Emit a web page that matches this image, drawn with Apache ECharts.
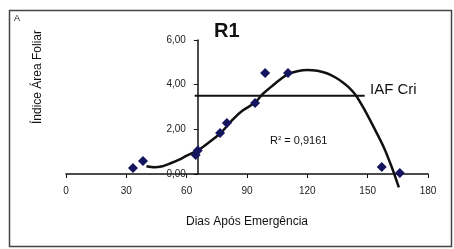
<!DOCTYPE html>
<html>
<head>
<meta charset="utf-8">
<script src="https://cdn.jsdelivr.net/npm/echarts@6/dist/echarts.min.js"></script>
<style>
  html, body { margin: 0; padding: 0; background: #fff; }
  #main { width: 454px; height: 249px; }
</style>
</head>
<body>
<div id="main"></div>
<script>
// observacoes (dias apos emergencia, IAF)
var obsDias = [33.3, 38.3, 64.5, 65.5, 76.6, 80, 94, 99, 110.4, 157, 166];
var obsIAF  = [0.27, 0.58, 0.85, 1.05, 1.84, 2.28, 3.18, 4.52, 4.52, 0.31, 0.04];

// linha de tendencia
var tendDias = [40, 44, 48, 52, 56, 60, 66, 72, 77, 83, 88, 94, 98, 102, 106, 110, 115,
                120, 125, 130, 134, 138, 141, 144, 148, 153, 158, 162, 165.5];
var tendIAF  = [0.35, 0.3, 0.35, 0.48, 0.63, 0.82, 1.08, 1.48, 1.84, 2.45, 2.85, 3.2, 3.6,
                3.9, 4.2, 4.45, 4.6, 4.66, 4.62, 4.5, 4.32, 4.08, 3.85, 3.54, 2.95, 2.1,
                1.2, 0.3, -0.6];

// IAF critico
var iafCriDias = [64, 148.5];
var iafCri = 3.5;

var xTicks = [0, 30, 60, 90, 120, 150, 180];
var yTicks = [0, 2, 4, 6];
var yAxisAt = 65.6;   // dia onde o eixo y cruza

var font = 'Liberation Sans, Arial, sans-serif';
var gridL = 66, gridR = 26;
var plotW = 454 - gridL - gridR;

function pares(a, b) {
  var out = [];
  for (var i = 0; i < a.length; i++) out.push([a[i], b[i]]);
  return out;
}

var chart = echarts.init(document.getElementById('main'));
var option = {
  animation: false,
  title: {
    text: 'R1', left: 209, top: 16,
    textStyle: { fontFamily: font, fontSize: 20, fontWeight: 'bold', color: '#111' }
  },
  grid: { left: gridL, right: gridR, top: 40, bottom: 75 },
  xAxis: {
    type: 'value', min: xTicks[0], max: xTicks[xTicks.length - 1], interval: 30,
    axisLine: { lineStyle: { color: '#111', width: 1.5 } },
    axisTick: { length: 4, lineStyle: { color: '#111' } },
    axisLabel: { fontFamily: font, fontSize: 10, color: '#222', margin: 12 },
    splitLine: { show: false },
    name: 'Dias Após Emergência', nameLocation: 'middle', nameGap: 42,
    nameTextStyle: { fontFamily: font, fontSize: 12, color: '#111' }
  },
  yAxis: {
    type: 'value', min: yTicks[0], max: yTicks[yTicks.length - 1], interval: 2,
    offset: -(yAxisAt / 180) * plotW,
    axisLine: { show: true, lineStyle: { color: '#111', width: 1.5 } },
    axisTick: { show: true, length: 4, lineStyle: { color: '#111' } },
    axisLabel: {
      fontFamily: font, fontSize: 10, color: '#222', margin: 12,
      formatter: function (v) { return v.toFixed(2).replace('.', ','); }
    },
    splitLine: { show: false }
  },
  graphic: [
    { type: 'rect', shape: { x: 9.5, y: 10.5, width: 442, height: 236 },
      style: { fill: 'none', stroke: '#444', lineWidth: 1.5 }, silent: true },
    { type: 'text', left: 14, top: 14,
      style: { text: 'A', fontFamily: font, fontSize: 9, fill: '#222' } },
    { type: 'text', x: 38, y: 77, rotation: Math.PI / 2,
      style: { text: 'Índice Área Foliar', fontFamily: font, fontSize: 12, fill: '#111',
               align: 'center', verticalAlign: 'middle' } },
    { type: 'text', x: 370, y: 90,
      style: { text: 'IAF Cri', fontFamily: font, fontSize: 15, fill: '#111',
               verticalAlign: 'middle' } },
    { type: 'text', x: 270, y: 141,
      style: { rich: { s: { fontSize: 6, fontFamily: font, fill: '#111', verticalAlign: 'top' } },
               text: 'R{s|2} = 0,9161', fontFamily: font, fontSize: 11, fill: '#111',
               verticalAlign: 'middle' } }
  ],
  series: [
    {
      type: 'line', data: pares(iafCriDias, [iafCri, iafCri]),
      symbol: 'none', lineStyle: { color: '#111', width: 2 }, z: 2
    },
    {
      type: 'line', data: pares(tendDias, tendIAF), smooth: 0.3, clip: false,
      symbol: 'none', lineStyle: { color: '#111', width: 2.5 }, z: 3
    },
    {
      type: 'scatter', data: pares(obsDias, obsIAF),
      symbol: 'diamond', symbolSize: 10, clip: false,
      itemStyle: { color: '#15155f', opacity: 1 }, z: 4
    }
  ]
};
chart.setOption(option);
</script>
</body>
</html>
